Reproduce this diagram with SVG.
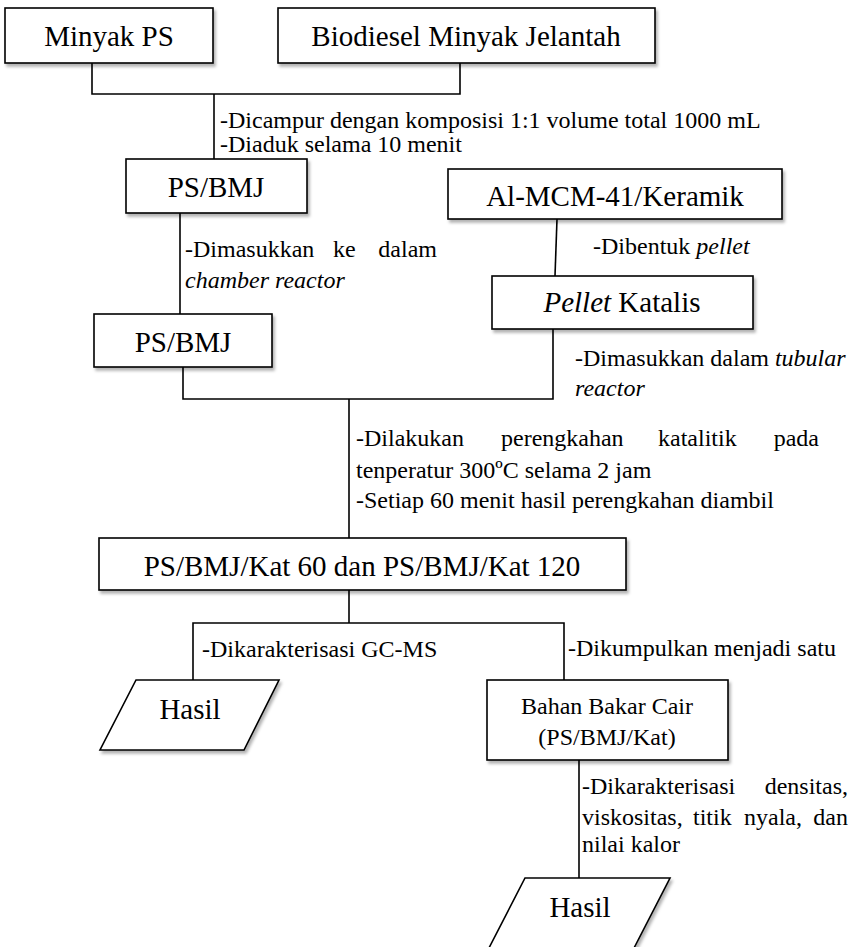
<svg xmlns="http://www.w3.org/2000/svg" width="850" height="947" viewBox="0 0 850 947" font-family="'Liberation Serif', 'Times New Roman', Tinos, 'DejaVu Serif', serif">
  <style>
    .box { fill: #ffffff; stroke: #000000; stroke-width: 1.6; filter: url(#shade); }
    .wire { fill: none; stroke: #000000; stroke-width: 1.6; }
    text { font-family: 'Liberation Serif', 'Times New Roman', Tinos, 'DejaVu Serif', serif; fill: #000000; }
    .big { font-size: 29px; text-anchor: middle; }
    .mid { font-size: 24px; text-anchor: middle; }
    .note { font-size: 24px; }
    .it { font-style: italic; }
  </style>
  <defs>
    <filter id="shade" x="-10%" y="-20%" width="130%" height="160%">
      <feDropShadow dx="2" dy="3" stdDeviation="1.8" flood-color="#000000" flood-opacity="0.3"/>
    </filter>
  </defs>
  <rect width="850" height="947" fill="#ffffff"/>

  <!-- connectors -->
  <g id="connectors">
    <path class="wire" d="M92,63 V94 H460 V63"/>
    <path class="wire" d="M214,94 V159"/>
    <path class="wire" d="M180,213 V314"/>
    <path class="wire" d="M557,219 L555,276"/>
    <path class="wire" d="M183,367 V399 H553 V329"/>
    <path class="wire" d="M349,399 V538"/>
    <path class="wire" d="M349,590 V623"/>
    <path class="wire" d="M193,680 V623 H564 V680"/>
    <path class="wire" d="M579,760 V878"/>
  </g>

  <!-- step notes (justified lines are set word by word) -->
  <g id="notes">
    <text class="note" x="220" y="128">-Dicampur dengan komposisi 1:1 volume total 1000 mL</text>
    <text class="note" x="220" y="152">-Diaduk selama 10 menit</text>

    <text class="note" y="257"><tspan x="185">-Dimasukkan</tspan><tspan x="333">ke</tspan><tspan x="437" text-anchor="end">dalam</tspan></text>
    <text class="note it" x="185" y="288">chamber reactor</text>

    <text class="note" x="593" y="254">-Dibentuk <tspan class="it">pellet</tspan></text>

    <text class="note" x="575" y="366">-Dimasukkan dalam <tspan class="it">tubular</tspan></text>
    <text class="note it" x="575" y="396">reactor</text>

    <text class="note" y="446"><tspan x="356">-Dilakukan</tspan><tspan x="501">perengkahan</tspan><tspan x="658">katalitik</tspan><tspan x="819" text-anchor="end">pada</tspan></text>
    <text class="note" x="356" y="478">tenperatur 300ºC selama 2 jam</text>
    <text class="note" x="356" y="508">-Setiap 60 menit hasil perengkahan diambil</text>

    <text class="note" x="202" y="657">-Dikarakterisasi GC-MS</text>
    <text class="note" x="568" y="656">-Dikumpulkan menjadi satu</text>

    <text class="note" y="794"><tspan x="582">-Dikarakterisasi</tspan><tspan x="848" text-anchor="end">densitas,</tspan></text>
    <text class="note" y="825"><tspan x="582">viskositas,</tspan><tspan x="693">titik</tspan><tspan x="744">nyala,</tspan><tspan x="848" text-anchor="end">dan</tspan></text>
    <text class="note" x="582" y="852">nilai kalor</text>
  </g>

  <g id="minyak-ps">
    <rect class="box" x="5" y="8" width="208" height="55"/>
    <text class="big" x="109" y="46">Minyak PS</text>
  </g>

  <g id="biodiesel">
    <rect class="box" x="278" y="8" width="377" height="55"/>
    <text class="big" x="466" y="46">Biodiesel Minyak Jelantah</text>
  </g>

  <g id="ps-bmj-mix">
    <rect class="box" x="126" y="159" width="181" height="54"/>
    <text class="big" x="216" y="197">PS/BMJ</text>
  </g>

  <g id="al-mcm">
    <rect class="box" x="448" y="169" width="334" height="50"/>
    <text class="big" x="615" y="206">Al-MCM-41/Keramik</text>
  </g>

  <g id="pellet-katalis">
    <rect class="box" x="492" y="276" width="261" height="53"/>
    <text class="big" x="622" y="312"><tspan class="it">Pellet</tspan> Katalis</text>
  </g>

  <g id="ps-bmj-chamber">
    <rect class="box" x="94" y="314" width="178" height="53"/>
    <text class="big" x="183" y="352">PS/BMJ</text>
  </g>

  <g id="ps-bmj-kat">
    <rect class="box" x="99" y="538" width="527" height="52"/>
    <text class="big" x="362" y="576">PS/BMJ/Kat 60 dan PS/BMJ/Kat 120</text>
  </g>

  <g id="hasil-gcms">
    <polygon class="box" points="136,680 279,680 244,750 100,750"/>
    <text class="big" x="190" y="719">Hasil</text>
  </g>

  <g id="bahan-bakar">
    <rect class="box" x="487" y="680" width="241" height="80"/>
    <text class="mid" x="607" y="714">Bahan Bakar Cair</text>
    <text class="mid" x="607" y="745">(PS/BMJ/Kat)</text>
  </g>

  <g id="hasil-fisik">
    <polygon class="box" points="525,878 670,878 634,948 489,948"/>
    <text class="big" x="580" y="917">Hasil</text>
  </g>
</svg>
